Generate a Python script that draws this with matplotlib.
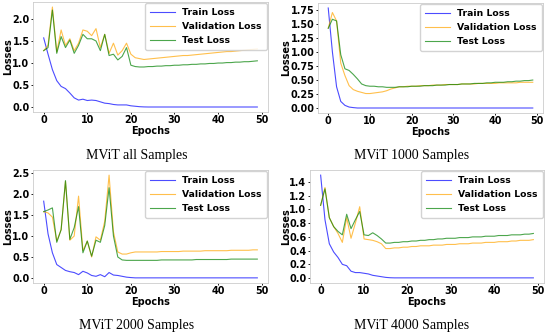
import matplotlib
matplotlib.use("Agg")
import matplotlib.pyplot as plt

epochs = list(range(50))

# Panel 1: MViT all Samples
train_all = [1.57, 1.20, 0.85, 0.60, 0.47, 0.42, 0.32, 0.21, 0.16, 0.18, 0.15, 0.16, 0.15, 0.12, 0.09, 0.08,
             0.06, 0.05, 0.05, 0.05, 0.03, 0.02, 0.01, 0.005] + [0.003] * 26
val_all = [1.28, 1.40, 2.27, 1.25, 1.75, 1.40, 1.55, 1.28, 1.45, 1.75, 1.72, 1.62, 1.78, 1.35, 1.65, 1.22,
           1.45, 1.18, 1.28, 1.45, 1.20, 1.12, 1.10, 1.08, 1.09, 1.10, 1.11, 1.12, 1.13, 1.14, 1.15, 1.16,
           1.17, 1.17, 1.18, 1.19, 1.20, 1.21, 1.22, 1.23, 1.24, 1.25, 1.26, 1.26, 1.27, 1.28, 1.29, 1.30,
           1.31, 1.32]
test_all = [1.28, 1.35, 2.20, 1.22, 1.60, 1.35, 1.52, 1.22, 1.40, 1.65, 1.55, 1.55, 1.50, 1.28, 1.65, 1.17,
            1.20, 1.07, 1.15, 1.35, 0.95, 0.92, 0.91, 0.91, 0.92, 0.92, 0.93, 0.93, 0.94, 0.94, 0.95, 0.95,
            0.96, 0.96, 0.97, 0.97, 0.98, 0.98, 0.99, 0.99, 1.00, 1.00, 1.01, 1.01, 1.02, 1.02, 1.03, 1.03,
            1.04, 1.05]

# Panel 2: MViT 1000 Samples
train_1000 = [1.78, 1.00, 0.38, 0.12, 0.05, 0.02, 0.01] + [0.003] * 43
val_1000 = [1.42, 1.70, 1.55, 0.80, 0.58, 0.40, 0.33, 0.30, 0.28, 0.26, 0.26, 0.27, 0.28, 0.29, 0.31, 0.34,
            0.36, 0.38, 0.38, 0.39, 0.39, 0.39, 0.40, 0.40, 0.40, 0.41, 0.41, 0.41, 0.42, 0.42, 0.42, 0.42,
            0.43, 0.43, 0.43, 0.43, 0.44, 0.44, 0.44, 0.44, 0.44, 0.45, 0.45, 0.45, 0.45, 0.45, 0.46, 0.46,
            0.46, 0.46]
test_1000 = [1.42, 1.58, 1.55, 0.95, 0.70, 0.67, 0.60, 0.52, 0.43, 0.40, 0.39, 0.39, 0.38, 0.38, 0.37, 0.37,
             0.37, 0.38, 0.38, 0.38, 0.39, 0.39, 0.39, 0.40, 0.40, 0.40, 0.41, 0.41, 0.41, 0.42, 0.42, 0.42,
             0.43, 0.43, 0.43, 0.44, 0.44, 0.44, 0.45, 0.45, 0.46, 0.46, 0.46, 0.47, 0.47, 0.48, 0.48, 0.49,
             0.49, 0.50]

# Panel 3: MViT 2000 Samples
train_2000 = [1.83, 1.05, 0.60, 0.32, 0.25, 0.18, 0.15, 0.13, 0.08, 0.16, 0.12, 0.06, 0.04, 0.08, 0.03, 0.13,
              0.07, 0.06, 0.04, 0.02, 0.01] + [0.003] * 29
val_2000 = [1.58, 1.55, 1.45, 0.88, 1.15, 2.30, 0.90, 1.00, 1.95, 0.65, 0.88, 0.50, 0.98, 0.90, 1.35, 2.45,
            1.10, 0.62, 0.57, 0.57, 0.60, 0.62, 0.62, 0.62, 0.62, 0.62, 0.62, 0.63, 0.63, 0.63, 0.63, 0.63,
            0.64, 0.64, 0.64, 0.64, 0.64, 0.65, 0.65, 0.65, 0.65, 0.65, 0.65, 0.66, 0.66, 0.66, 0.66, 0.66,
            0.67, 0.67]
test_2000 = [1.58, 1.62, 1.67, 0.85, 1.15, 2.32, 0.92, 1.20, 1.70, 0.60, 0.88, 0.52, 0.90, 0.85, 1.25, 2.15,
             1.00, 0.50, 0.43, 0.42, 0.42, 0.42, 0.42, 0.42, 0.42, 0.42, 0.42, 0.43, 0.43, 0.43, 0.43, 0.43,
             0.43, 0.43, 0.43, 0.44, 0.44, 0.44, 0.44, 0.44, 0.44, 0.44, 0.44, 0.45, 0.45, 0.45, 0.45, 0.45,
             0.45, 0.45]

# Panel 4: MViT 4000 Samples
train_4000 = [1.50, 0.85, 0.50, 0.38, 0.30, 0.20, 0.18, 0.10, 0.08, 0.08, 0.07, 0.06, 0.04, 0.03, 0.02, 0.01,
              0.005] + [0.003] * 33
val_4000 = [1.06, 1.32, 0.88, 0.75, 0.65, 0.52, 0.88, 0.58, 0.80, 1.04, 0.57, 0.56, 0.55, 0.53, 0.50, 0.43,
            0.43, 0.44, 0.44, 0.45, 0.45, 0.46, 0.46, 0.47, 0.47, 0.47, 0.48, 0.48, 0.48, 0.49, 0.49, 0.49,
            0.50, 0.50, 0.50, 0.51, 0.51, 0.51, 0.52, 0.52, 0.52, 0.53, 0.53, 0.53, 0.54, 0.54, 0.55, 0.55,
            0.55, 0.56]
test_4000 = [1.06, 1.30, 0.88, 0.75, 0.68, 0.63, 0.93, 0.72, 0.85, 0.97, 0.63, 0.62, 0.66, 0.62, 0.57, 0.51,
             0.51, 0.52, 0.52, 0.53, 0.53, 0.54, 0.54, 0.55, 0.55, 0.56, 0.56, 0.57, 0.57, 0.58, 0.58, 0.58,
             0.59, 0.59, 0.59, 0.60, 0.60, 0.60, 0.61, 0.61, 0.61, 0.62, 0.62, 0.62, 0.63, 0.63, 0.63, 0.64,
             0.64, 0.65]

captions = ["MViT all Samples", "MViT 1000 Samples", "MViT 2000 Samples", "MViT 4000 Samples"]
series = [(train_all, val_all, test_all), (train_1000, val_1000, test_1000),
          (train_2000, val_2000, test_2000), (train_4000, val_4000, test_4000)]
yticks = [[0.0, 0.5, 1.0, 1.5, 2.0],
          [0.0, 0.25, 0.5, 0.75, 1.0, 1.25, 1.5, 1.75],
          [0.0, 0.5, 1.0, 1.5, 2.0, 2.5],
          [0.0, 0.2, 0.4, 0.6, 0.8, 1.0, 1.2, 1.4]]
yfmt = ["%.1f", "%.2f", "%.1f", "%.1f"]

W, H = 550, 336
fig = plt.figure(figsize=(5.5, 3.36), dpi=100)
# axes boxes in pixels: (left, top, right, bottom)
boxes = [(33, 2, 268, 112), (318, 3, 543, 113), (33, 170, 268, 283), (310, 170, 544, 283)]
ylabel_x = [3, 281, 3, 281]
cap_pos = [(137, 156), (412, 156), (137, 326), (412, 326)]

for i, (b, (tr, va, te)) in enumerate(zip(boxes, series)):
    l, t, r, bt = b
    ax = fig.add_axes([l / W, 1 - bt / H, (r - l) / W, (bt - t) / H])
    ax.plot(epochs, tr, color="blue", alpha=0.7, lw=0.8, label="Train Loss")
    ax.plot(epochs, va, color="orange", alpha=0.7, lw=0.8, label="Validation Loss")
    ax.plot(epochs, te, color="green", alpha=0.7, lw=0.8, label="Test Loss")
    ax.set_xticks([0, 10, 20, 30, 40, 50])
    ax.set_yticks(yticks[i])
    ax.set_yticklabels([yfmt[i] % v for v in yticks[i]])
    ax.tick_params(labelsize=6.9, length=1.5, width=0.6, pad=1)
    for lab in ax.get_xticklabels() + ax.get_yticklabels():
        lab.set_fontweight("bold")
    ax.set_xlabel("Epochs", fontsize=7, fontweight="bold", labelpad=0.5)
    ax.set_ylabel("Losses", fontsize=7, fontweight="bold")
    ax.yaxis.set_label_coords((ylabel_x[i] - l) / (r - l), 0.5)
    ax.yaxis.label.set_verticalalignment("top")
    for s in ax.spines.values():
        s.set_color("#cccccc")
        s.set_linewidth(0.6)
    ax.legend(loc="upper right", prop={"size": 6.7, "weight": "bold"}, handlelength=2.7,
              borderpad=0.5, labelspacing=0.55, borderaxespad=0.15, framealpha=0.85)
    cx, cy = cap_pos[i]
    fig.text(cx / W, 1 - cy / H, captions[i], ha="center", va="center", fontsize=10,
             family="Liberation Serif")

fig.savefig("out.png", dpi=100)
